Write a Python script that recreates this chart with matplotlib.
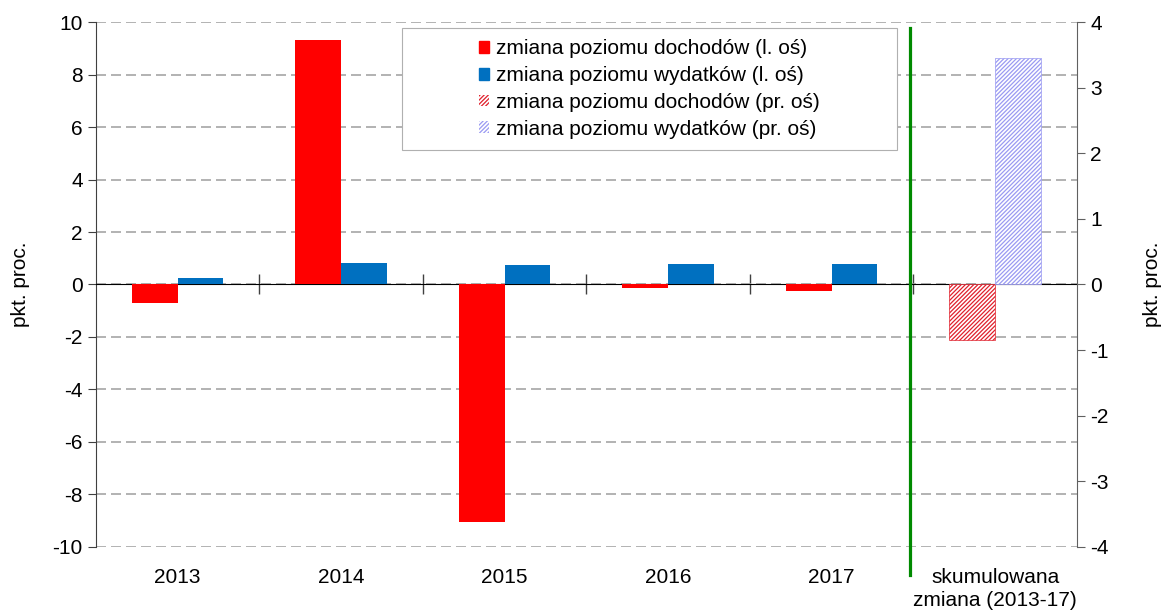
import matplotlib.pyplot as plt
import matplotlib.patches as mpatches
import numpy as np

plt.rcParams['font.family'] = ['Liberation Sans', 'DejaVu Sans']
plt.rcParams['hatch.linewidth'] = 0.9
plt.rcParams['axes.unicode_minus'] = False

# dane (pkt. proc.)
lata = ['2013', '2014', '2015', '2016', '2017']
dochody = [-0.70, 9.31, -9.05, -0.12, -0.25]
wydatki = [0.24, 0.81, 0.74, 0.80, 0.80]
etykieta_skum = 'skumulowana\nzmiana (2013-17)'
dochody_skum = -0.85
wydatki_skum = 3.45

kategorie = lata + [etykieta_skum]
x = np.arange(len(kategorie))
w = 0.28
fs = 15
kreska = '////////'

fig = plt.figure(figsize=(11.63, 6.15), dpi=100)
ax = fig.add_axes([0.0825, 0.1106, 0.8435, 0.8536])
ax2 = ax.twinx()

# lewa oś
ax.bar(x[:5] - w/2, dochody, w, color='#ff0000', zorder=3)
ax.bar(x[:5] + w/2, wydatki, w, color='#0070c0', zorder=3)

# prawa oś
ax2.bar(x[5] - w/2, dochody_skum, w, color='white', edgecolor='#e0202c',
        hatch=kreska, linewidth=0.5, zorder=3)
ax2.bar(x[5] + w/2, wydatki_skum, w, color='white', edgecolor='#9a9af2',
        hatch=kreska, linewidth=0.5, zorder=3)

ax.set_xlim(-0.5, 5.5)
ax.set_ylim(-10, 10)
ax.set_yticks(np.arange(-10, 11, 2))
ax2.set_ylim(-4, 4)
ax2.set_yticks(np.arange(-4, 5, 1))

ax.yaxis.grid(True, linestyle=(0, (6, 3)), color='#a6a6a6', linewidth=1.2)
ax.set_axisbelow(True)

ax.spines['top'].set_visible(False)
ax2.spines['top'].set_visible(False)
ax2.spines['bottom'].set_visible(False)
ax2.spines['left'].set_visible(False)
ax.spines['right'].set_visible(False)
ax.spines['bottom'].set_position(('data', 0))
ax.spines['bottom'].set_color('black')
ax.spines['left'].set_color('#404040')
ax2.spines['right'].set_color('#606060')

ax.set_xticks(x[:5] + 0.5)
ax.set_xticklabels([])
ax.tick_params(axis='x', direction='inout', length=14, width=1, color='#404040')
ax.tick_params(axis='y', direction='out', length=6, labelsize=fs, color='#404040')
ax2.tick_params(axis='y', direction='out', length=6, labelsize=fs, color='#606060')

for xi, lab in zip(x, kategorie):
    ax.text(xi, -0.04, lab, transform=ax.get_xaxis_transform(),
            ha='center', va='top', fontsize=fs, linespacing=1.25)

ax.set_ylabel('pkt. proc.', fontsize=fs, labelpad=16)
ax2.set_ylabel('pkt. proc.', fontsize=fs, rotation=90, labelpad=25)

# linia oddzielająca
ax.axvline(4.48, ymin=-0.053, ymax=0.989, color='#008a00', linewidth=2.3,
           clip_on=False, zorder=5)

# legenda
rama = mpatches.Rectangle((0.312, 0.756), 0.5045, 0.2326, transform=ax.transAxes,
                          facecolor='white', edgecolor='#b0b0b0', linewidth=0.8,
                          zorder=6)
ax.add_patch(rama)
uchwyty = [
    mpatches.Patch(color='#ff0000', label='zmiana poziomu dochodów (l. oś)'),
    mpatches.Patch(color='#0070c0', label='zmiana poziomu wydatków (l. oś)'),
    mpatches.Patch(facecolor='white', edgecolor='#e0202c', hatch=kreska,
                   linewidth=0, label='zmiana poziomu dochodów (pr. oś)'),
    mpatches.Patch(facecolor='white', edgecolor='#9a9af2', hatch=kreska,
                   linewidth=0, label='zmiana poziomu wydatków (pr. oś)'),
]
leg = ax.legend(handles=uchwyty, loc='center',
                bbox_to_anchor=(0.312 + 0.5045/2, 0.756 + 0.2326/2),
                frameon=False, fontsize=fs, handlelength=0.5, handleheight=0.5,
                handletextpad=0.35, labelspacing=0.37)
leg.set_zorder(7)

fig.savefig('out.png', dpi=100)
